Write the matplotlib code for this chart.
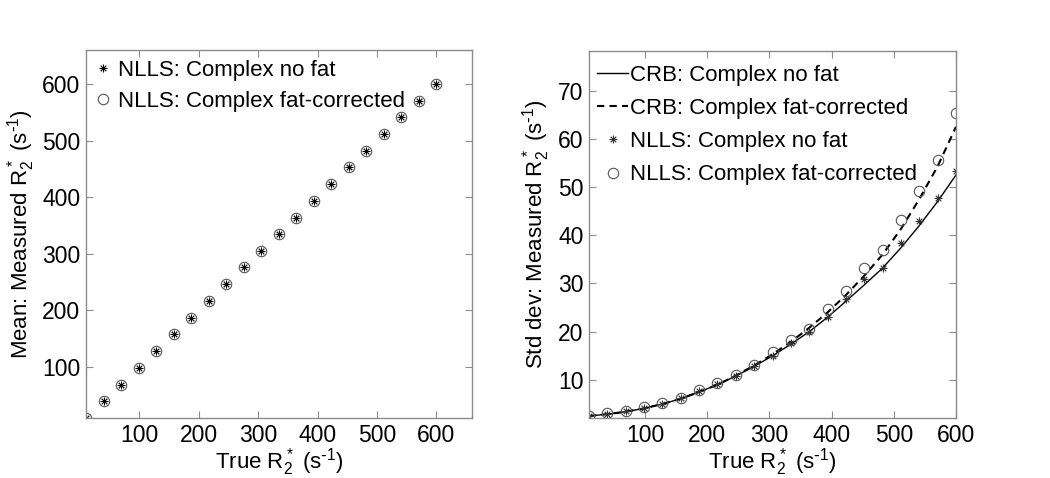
import numpy as np
import matplotlib
matplotlib.use("Agg")
import matplotlib.pyplot as plt

plt.rcParams['font.family'] = ['Liberation Sans', 'DejaVu Sans']
plt.rcParams['mathtext.default'] = 'regular'
plt.rcParams['font.size'] = 16

# true R2* values (s^-1)
true_r2 = [10, 39.5, 69, 98.5, 128, 157.5, 187, 216.5, 246, 275.5, 305,
           334.5, 364, 393.5, 423, 452.5, 482, 511.5, 541, 570.5, 600]

# mean of measured R2*
mean_nofat = [10, 40, 69, 99, 128, 158, 187, 217, 246, 276, 305,
              335, 364, 394, 423, 453, 482, 511, 541, 570, 600]
mean_fatcorr = [10, 40, 69, 99, 128, 158, 187, 217, 246, 276, 305,
                335, 364, 394, 423, 453, 482, 511, 541, 570, 600]

# std dev of measured R2*
std_nofat = [2.5, 3.0, 3.5, 4.2, 5.1, 6.2, 7.7, 9.2, 10.8, 12.8, 15.0,
             17.6, 19.9, 23.1, 26.7, 30.9, 33.3, 38.4, 42.9, 47.7, 53.3]
std_fatcorr = [2.5, 3.1, 3.6, 4.3, 5.2, 6.3, 7.9, 9.3, 11.0, 13.0, 15.7,
               18.2, 20.5, 24.7, 28.5, 33.3, 37.0, 43.2, 49.1, 55.5, 65.3]

# Cramer-Rao bounds
crb_nofat = [2.5, 2.9, 3.4, 4.1, 5.0, 6.1, 7.5, 9.0, 10.8, 12.8, 15.0,
             17.4, 20.0, 23.0, 26.3, 29.7, 33.2, 37.4, 42.0, 47.0, 52.5]
crb_fatcorr = [2.5, 2.9, 3.4, 4.1, 5.0, 6.1, 7.5, 9.0, 10.9, 13.0, 15.3,
               17.9, 20.8, 24.0, 27.6, 31.6, 36.0, 41.3, 47.5, 54.3, 62.5]

spine_grey = '#8c8c8c'
circ_col = '#555555'
ast = (8, 2, 0)
xlab = 'True R$_2^*$ (s$^{\\text{-}1}$)'

fig = plt.figure(figsize=(10.5, 4.78), dpi=100)
ax1 = fig.add_axes([86 / 1050, 1 - 418 / 478, 386 / 1050, 368 / 478])
ax2 = fig.add_axes([589 / 1050, 1 - 418 / 478, 367 / 1050, 367 / 478])


def style_axes(ax):
    for s in ax.spines.values():
        s.set_color(spine_grey)
        s.set_linewidth(1.0)
    ax.tick_params(direction='in', top=True, right=True, length=5,
                   color=spine_grey, labelcolor='black', labelsize=16.5,
                   pad=4)


# left: mean
ax1.plot(true_r2, mean_nofat, linestyle='none', marker=ast, ms=5.5,
         mec='black', mew=0.6, label='NLLS: Complex no fat')
ax1.plot(true_r2, mean_fatcorr, linestyle='none', marker='o', ms=7.5,
         mfc='none', mec=circ_col, mew=0.8, label='NLLS: Complex fat-corrected')
ax1.set_xlim(10, 660)
ax1.set_ylim(10, 660)
ax1.set_xticks([100, 200, 300, 400, 500, 600])
ax1.set_yticks([100, 200, 300, 400, 500, 600])
ax1.set_xlabel(xlab, fontsize=16, labelpad=0)
ax1.set_ylabel('Mean: Measured R$_2^*$ (s$^{\\text{-}1}$)', fontsize=16, labelpad=4)
style_axes(ax1)
ax1.legend(loc='upper left', bbox_to_anchor=(0.01, 0.985), frameon=False,
           fontsize=16, handlelength=0.8, handletextpad=0.25, labelspacing=0.45,
           borderaxespad=0, borderpad=0.2)

# right: std dev
ax2.plot(true_r2, crb_nofat, color='black', lw=1.0, label='CRB: Complex no fat')
ax2.plot(true_r2, crb_fatcorr, color='black', lw=1.5, ls=(0, (3.5, 2.5)),
         label='CRB: Complex fat-corrected')
ax2.plot(true_r2, std_nofat, linestyle='none', marker=ast, ms=5.5,
         mec='#333333', mew=0.6, label='NLLS: Complex no fat')
ax2.plot(true_r2, std_fatcorr, linestyle='none', marker='o', ms=7.5,
         mfc='none', mec=circ_col, mew=0.8, label='NLLS: Complex fat-corrected')
ax2.set_xlim(10, 600)
ax2.set_ylim(2.1, 78.2)
ax2.set_xticks([100, 200, 300, 400, 500, 600])
ax2.set_yticks([10, 20, 30, 40, 50, 60, 70])
ax2.set_xlabel(xlab, fontsize=16, labelpad=0)
ax2.set_ylabel('Std dev: Measured R$_2^*$ (s$^{\\text{-}1}$)', fontsize=16, labelpad=4)
style_axes(ax2)
ax2.legend(loc='upper left', bbox_to_anchor=(0.01, 0.975), frameon=False,
           fontsize=16, handlelength=1.4, handletextpad=0.1, labelspacing=0.55,
           borderaxespad=0, borderpad=0.2)

fig.savefig('out.png', dpi=100)
